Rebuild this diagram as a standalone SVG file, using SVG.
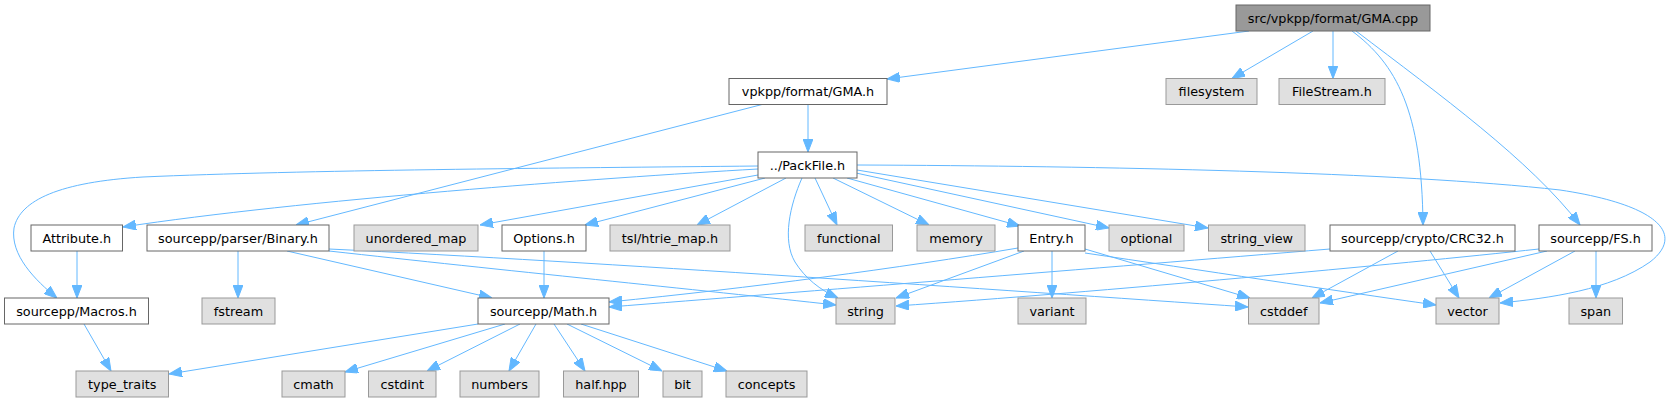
<svg xmlns="http://www.w3.org/2000/svg" width="1675" height="403" viewBox="0 0 1675 403">
<style>
.n rect{stroke-width:1}
.w rect{fill:#ffffff;stroke:#666666}
.g rect{fill:#e0e0e0;stroke:#999999}
.r rect{fill:#999999;stroke:#666666}
text{font-family:"DejaVu Sans","Noto Sans",sans-serif;font-size:12.8px;fill:#000000;text-anchor:middle}
#edges path{fill:none;stroke:#63b8ff;stroke-width:1;marker-end:url(#ah)}
</style>
<defs>
<marker id="ah" viewBox="0 0 13 10" markerWidth="13" markerHeight="10" refX="13" refY="5" orient="auto" markerUnits="userSpaceOnUse">
<path d="M0,0 L13,5 L0,10 z" fill="#63b8ff" stroke="#63b8ff" stroke-width="1"/>
</marker>
</defs>
<rect width="1675" height="403" fill="#ffffff"/>
<g id="edges">
<path d="M1249,31 L887,79"/>
<path d="M1313,31 L1232,78.5"/>
<path d="M1333,31 L1333,78.5"/>
<path d="M1352,31 C1396,64 1422,110 1423,225"/>
<path d="M1356,31 C1440,95 1530,160 1580,225"/>
<path d="M808,104.5 L808,152"/>
<path d="M762,104.5 L296,225"/>
<path d="M758,166 C560,168 300,170 143,177 C60,182 20,200 14,228 C10,255 35,280 57,298"/>
<path d="M758,169 C600,178 300,200 123,227"/>
<path d="M758,175 L480,225"/>
<path d="M765,178 L585,225"/>
<path d="M786,178 L697,225"/>
<path d="M802,178 C790,205 782,240 795,262 C805,278 820,290 838,298"/>
<path d="M815,178 L837,225"/>
<path d="M833,178 L929,225"/>
<path d="M847,178 L1020,226"/>
<path d="M856,173 L1109,228"/>
<path d="M857,170 L1208,228"/>
<path d="M857,165 C1100,166 1400,172 1560,190 C1660,205 1685,235 1650,262 C1610,290 1550,298 1500,303"/>
<path d="M238,251 L238,298"/>
<path d="M287,251 L492,298"/>
<path d="M329,251 C500,270 700,290 836,305"/>
<path d="M329,249 C600,262 1000,290 1248,307"/>
<path d="M77,251 L77,298"/>
<path d="M84,324 L111,371"/>
<path d="M544,251 L544,298"/>
<path d="M478,324 L169,374"/>
<path d="M505,324 L345,372"/>
<path d="M520,324 L427,371"/>
<path d="M536,324 L509,371"/>
<path d="M554,324 L585,371"/>
<path d="M567,324 L662,371"/>
<path d="M581,324 L727,371"/>
<path d="M1018,248 C900,268 750,288 609,302"/>
<path d="M1024,251 L896,298"/>
<path d="M1052,251 L1052,298"/>
<path d="M1085,249 L1250,298"/>
<path d="M1085,253 C1200,270 1330,290 1436,305"/>
<path d="M1330,249 C1100,268 800,292 609,307"/>
<path d="M1398,251 L1312,298"/>
<path d="M1430,251 L1459,298"/>
<path d="M1539,249 C1400,264 1100,292 896,306"/>
<path d="M1547,251 L1320,303"/>
<path d="M1575,251 L1489,298"/>
<path d="M1596,251 L1596,298"/>
</g>
<g id="n_gmacpp" class="n r"><rect x="1236" y="5" width="194" height="26"/><text x="1333" y="22.5">src/vpkpp/format/GMA.cpp</text></g>
<g id="n_gmah" class="n w"><rect x="729" y="78.5" width="158" height="26"/><text x="808" y="96">vpkpp/format/GMA.h</text></g>
<g id="n_filesystem" class="n g"><rect x="1166" y="78.5" width="91" height="26"/><text x="1211.5" y="96">filesystem</text></g>
<g id="n_filestream" class="n g"><rect x="1279" y="78.5" width="106" height="26"/><text x="1332" y="96">FileStream.h</text></g>
<g id="n_packfile" class="n w"><rect x="758" y="152" width="99" height="26"/><text x="807.5" y="169.5">../PackFile.h</text></g>
<g id="n_attribute" class="n w"><rect x="31" y="225" width="91.5" height="26"/><text x="76.75" y="242.5">Attribute.h</text></g>
<g id="n_binary" class="n w"><rect x="147" y="225" width="182" height="26"/><text x="238" y="242.5">sourcepp/parser/Binary.h</text></g>
<g id="n_unordered_map" class="n g"><rect x="354" y="225" width="124" height="26"/><text x="416" y="242.5">unordered_map</text></g>
<g id="n_options" class="n w"><rect x="502" y="225" width="84" height="26"/><text x="544" y="242.5">Options.h</text></g>
<g id="n_htrie" class="n g"><rect x="610" y="225" width="120" height="26"/><text x="670" y="242.5">tsl/htrie_map.h</text></g>
<g id="n_functional" class="n g"><rect x="805" y="225" width="87.5" height="26"/><text x="848.75" y="242.5">functional</text></g>
<g id="n_memory" class="n g"><rect x="917" y="225" width="78" height="26"/><text x="956" y="242.5">memory</text></g>
<g id="n_entry" class="n w"><rect x="1018" y="225" width="67" height="26"/><text x="1051.5" y="242.5">Entry.h</text></g>
<g id="n_optional" class="n g"><rect x="1109" y="225" width="75" height="26"/><text x="1146.5" y="242.5">optional</text></g>
<g id="n_string_view" class="n g"><rect x="1208.5" y="225" width="96.5" height="26"/><text x="1256.75" y="242.5">string_view</text></g>
<g id="n_crc32" class="n w"><rect x="1330" y="225" width="185" height="26"/><text x="1422.5" y="242.5">sourcepp/crypto/CRC32.h</text></g>
<g id="n_fs" class="n w"><rect x="1539" y="225" width="113" height="26"/><text x="1595.5" y="242.5">sourcepp/FS.h</text></g>
<g id="n_macros" class="n w"><rect x="4.5" y="298" width="144" height="26"/><text x="76.5" y="315.5">sourcepp/Macros.h</text></g>
<g id="n_fstream" class="n g"><rect x="202" y="298" width="73" height="26"/><text x="238.5" y="315.5">fstream</text></g>
<g id="n_math" class="n w"><rect x="478" y="298" width="131" height="26"/><text x="543.5" y="315.5">sourcepp/Math.h</text></g>
<g id="n_string" class="n g"><rect x="836" y="298" width="59" height="26"/><text x="865.5" y="315.5">string</text></g>
<g id="n_variant" class="n g"><rect x="1018" y="298" width="68" height="26"/><text x="1052" y="315.5">variant</text></g>
<g id="n_cstddef" class="n g"><rect x="1248.5" y="298" width="70.5" height="26"/><text x="1283.75" y="315.5">cstddef</text></g>
<g id="n_vector" class="n g"><rect x="1436" y="298" width="63" height="26"/><text x="1467.5" y="315.5">vector</text></g>
<g id="n_span" class="n g"><rect x="1569" y="298" width="53.5" height="26"/><text x="1595.75" y="315.5">span</text></g>
<g id="n_type_traits" class="n g"><rect x="76" y="371" width="92.5" height="26"/><text x="122.25" y="388.5">type_traits</text></g>
<g id="n_cmath" class="n g"><rect x="282" y="371" width="63" height="26"/><text x="313.5" y="388.5">cmath</text></g>
<g id="n_cstdint" class="n g"><rect x="368.5" y="371" width="67.5" height="26"/><text x="402.25" y="388.5">cstdint</text></g>
<g id="n_numbers" class="n g"><rect x="460" y="371" width="79" height="26"/><text x="499.5" y="388.5">numbers</text></g>
<g id="n_half" class="n g"><rect x="563.5" y="371" width="75" height="26"/><text x="601" y="388.5">half.hpp</text></g>
<g id="n_bit" class="n g"><rect x="663" y="371" width="39" height="26"/><text x="682.5" y="388.5">bit</text></g>
<g id="n_concepts" class="n g"><rect x="726" y="371" width="81" height="26"/><text x="766.5" y="388.5">concepts</text></g>
</svg>
